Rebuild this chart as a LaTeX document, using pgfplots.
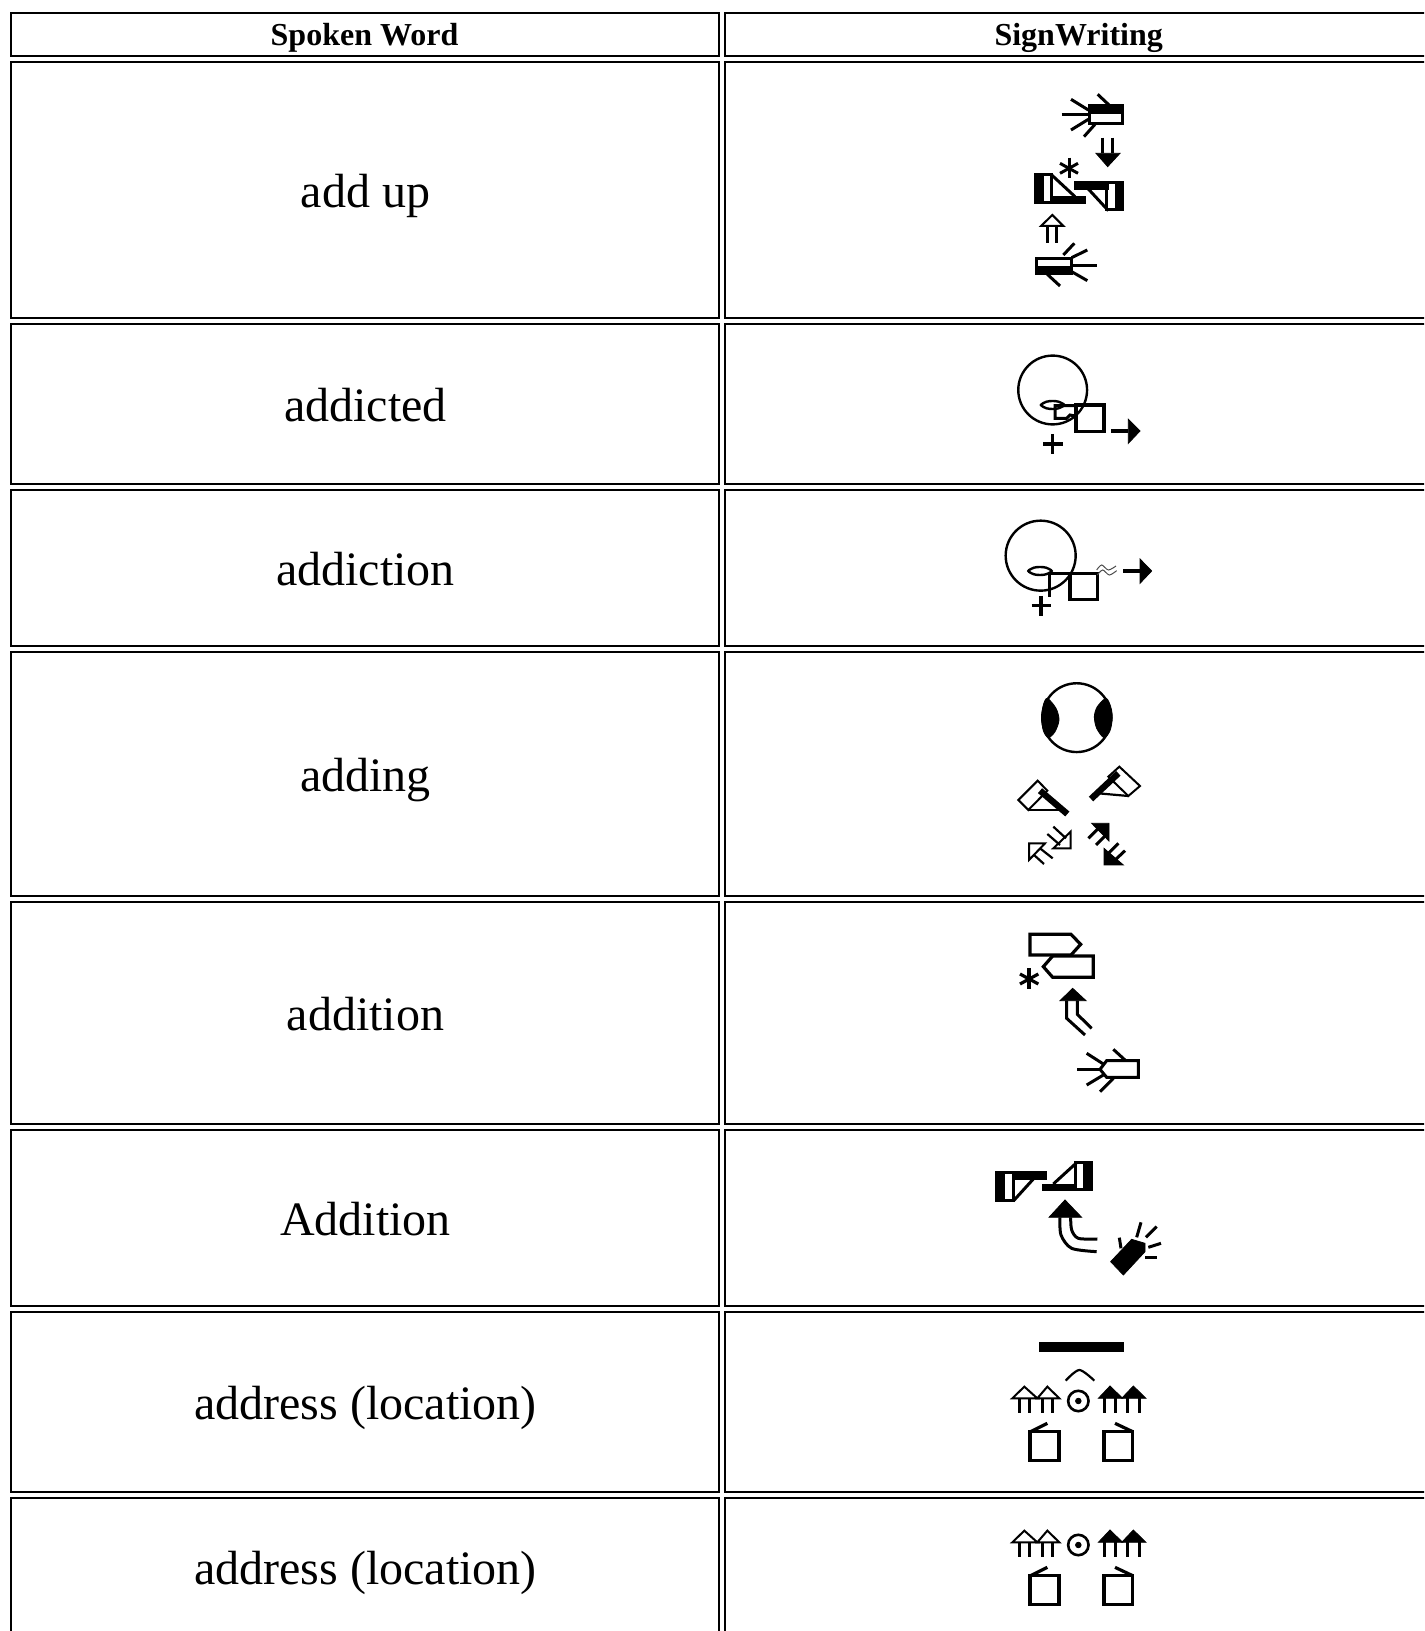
\documentclass[border=0pt]{standalone}
\usepackage{fontspec}
\setmainfont{Liberation Serif}
\usepackage{pgfplots}
\pgfplotsset{compat=1.18}
\pgfplotsset{
  g/.style={black,line width=1.5pt,no markers,line cap=butt,line join=miter},
  h/.style={black,line width=1.6pt,no markers,line join=miter},
  t/.style={black!70,line width=0.5pt,no markers,smooth},
  f/.style={black,fill=black,line width=0.4pt,no markers},
  o/.style={black,fill=white,line width=1pt,no markers,line join=miter},
  rule/.style={black,line width=1.1pt,no markers},
  zone/.style n args={6}{hide axis,scale only axis,anchor=south west,
    at={({#1*0.5pt},{(1631-#2-#4)*0.5pt})},
    width=#3*0.5pt,height=#4*0.5pt,
    xmin=0,xmax=#5,ymin=0,ymax=#6,y dir=reverse,clip=false},
}
\newcommand\ring[4]{\addplot[only marks,mark=o,mark size=#3pt,
  mark options={draw=black,fill=none,line width=#4pt}] coordinates {(#1,#2)};}
\newcommand\addressbody{%
  \ring{355}{243}{5.1}{1.3}
  \addplot[only marks,mark=*,mark size=1.4pt,mark options={black}] coordinates {(355,243)};
  \addplot[o] coordinates {(157,235)(193,200)(232,235)} --cycle;
  \addplot[o] coordinates {(232,235)(262,200)(298,235)} --cycle;
  \addplot[g] coordinates {(178,235)(178,278)};
  \addplot[g] coordinates {(208,235)(208,278)};
  \addplot[g] coordinates {(248,235)(248,278)};
  \addplot[g] coordinates {(278,235)(278,278)};
  \addplot[f] coordinates {(415,235)(450,198)(488,235)} --cycle;
  \addplot[f] coordinates {(485,235)(520,198)(558,235)} --cycle;
  \addplot[g] coordinates {(433,235)(433,278)};
  \addplot[g] coordinates {(465,235)(465,278)};
  \addplot[g] coordinates {(503,235)(503,278)};
  \addplot[g] coordinates {(537,235)(537,278)};
  \addplot[h] coordinates {(210,335)(297,335)(297,422)(210,422)} --cycle;
  \addplot[h] coordinates {(212,335)(262,310)};
  \addplot[h] coordinates {(432,335)(518,335)(518,422)(432,422)} --cycle;
  \addplot[h] coordinates {(518,335)(465,310)};
}
\begin{document}
\begin{tikzpicture}
\useasboundingbox (0,0) rectangle (712pt,815.5pt);
% table
\begin{axis}[zone={0}{0}{1424}{1631}{1424}{1631},clip=true]
  \addplot[rule] coordinates {(11,13)(719,13)(719,56)(11,56)} --cycle;
  \addplot[rule] coordinates {(725,13)(1432,13)(1432,56)(725,56)} --cycle;
  \addplot[rule] coordinates {(11,62)(719,62)(719,318)(11,318)} --cycle;
  \addplot[rule] coordinates {(725,62)(1432,62)(1432,318)(725,318)} --cycle;
  \addplot[rule] coordinates {(11,324)(719,324)(719,484)(11,484)} --cycle;
  \addplot[rule] coordinates {(725,324)(1432,324)(1432,484)(725,484)} --cycle;
  \addplot[rule] coordinates {(11,490)(719,490)(719,646)(11,646)} --cycle;
  \addplot[rule] coordinates {(725,490)(1432,490)(1432,646)(725,646)} --cycle;
  \addplot[rule] coordinates {(11,652)(719,652)(719,896)(11,896)} --cycle;
  \addplot[rule] coordinates {(725,652)(1432,652)(1432,896)(725,896)} --cycle;
  \addplot[rule] coordinates {(11,902)(719,902)(719,1124)(11,1124)} --cycle;
  \addplot[rule] coordinates {(725,902)(1432,902)(1432,1124)(725,1124)} --cycle;
  \addplot[rule] coordinates {(11,1130)(719,1130)(719,1306)(11,1306)} --cycle;
  \addplot[rule] coordinates {(725,1130)(1432,1130)(1432,1306)(725,1306)} --cycle;
  \addplot[rule] coordinates {(11,1312)(719,1312)(719,1492)(11,1492)} --cycle;
  \addplot[rule] coordinates {(725,1312)(1432,1312)(1432,1492)(725,1492)} --cycle;
  \addplot[rule] coordinates {(11,1498)(719,1498)(719,1640)(11,1640)} --cycle;
  \addplot[rule] coordinates {(725,1498)(1432,1498)(1432,1640)(725,1640)} --cycle;
  \node[anchor=base,font=\fontsize{16}{18}\selectfont\bfseries] at (axis cs:364.5,45.7) {Spoken Word};
  \node[anchor=base,font=\fontsize{16}{18}\selectfont\bfseries] at (axis cs:1078.7,45.7) {SignWriting};
  \node[anchor=base,font=\fontsize{24}{26}\selectfont] at (axis cs:365.5,208) {add up};
  \node[anchor=base,font=\fontsize{24}{26}\selectfont] at (axis cs:365.5,421) {addicted};
  \node[anchor=base,font=\fontsize{24}{26}\selectfont] at (axis cs:365.5,585) {addiction};
  \node[anchor=base,font=\fontsize{24}{26}\selectfont] at (axis cs:365.5,791) {adding};
  \node[anchor=base,font=\fontsize{24}{26}\selectfont] at (axis cs:365.5,1030) {addition};
  \node[anchor=base,font=\fontsize{24}{26}\selectfont] at (axis cs:365.5,1235) {Addition};
  \node[anchor=base,font=\fontsize{24}{26}\selectfont] at (axis cs:365.5,1419) {address (location)};
  \node[anchor=base,font=\fontsize{24}{26}\selectfont] at (axis cs:365.5,1584) {address (location)};
\end{axis}
% add up
\begin{axis}[zone={960}{70}{240}{240}{720}{720}]
  \addplot[g] coordinates {(305,133)(385,133)};
  \addplot[g] coordinates {(333,88)(385,120)};
  \addplot[g] coordinates {(413,73)(447,105)};
  \addplot[g] coordinates {(333,180)(385,148)};
  \addplot[g] coordinates {(372,200)(405,163)};
  \addplot[f] coordinates {(385,105)(488,105)(488,130)(385,130)} --cycle;
  \addplot[g] coordinates {(387,107)(486,107)(486,161)(387,161)} --cycle;
  \addplot[g] coordinates {(428,203)(428,250)};
  \addplot[g] coordinates {(458,203)(458,250)};
  \addplot[f] coordinates {(408,250)(480,250)(443,290)} --cycle;
  \addplot[g] coordinates {(327,263)(327,325)};
  \addplot[g] coordinates {(300,280)(354,310)};
  \addplot[g] coordinates {(354,280)(300,310)};
  \addplot[f] coordinates {(225,313)(250,313)(250,400)(225,400)} --cycle;
  \addplot[g] coordinates {(227,315)(275,315)(275,398)(227,398)} --cycle;
  \addplot[f] coordinates {(275,378)(375,378)(375,400)(275,400)} --cycle;
  \addplot[g] coordinates {(275,315)(345,380)};
  \addplot[f] coordinates {(343,335)(445,335)(445,357)(343,357)} --cycle;
  \addplot[f] coordinates {(465,335)(488,335)(488,422)(465,422)} --cycle;
  \addplot[g] coordinates {(440,337)(486,337)(486,420)(440,420)} --cycle;
  \addplot[g] coordinates {(385,357)(445,422)};
  \addplot[o] coordinates {(243,468)(310,468)(277,435)} --cycle;
  \addplot[g] coordinates {(262,468)(262,518)};
  \addplot[g] coordinates {(290,468)(290,518)};
  \addplot[g] coordinates {(335,588)(410,588)};
  \addplot[g] coordinates {(310,555)(343,520)};
  \addplot[g] coordinates {(335,563)(382,540)};
  \addplot[g] coordinates {(335,605)(382,632)};
  \addplot[g] coordinates {(262,613)(300,648)};
  \addplot[f] coordinates {(228,590)(335,590)(335,613)(228,613)} --cycle;
  \addplot[g] coordinates {(230,565)(333,565)(333,611)(230,611)} --cycle;
\end{axis}
% addicted, addiction
\begin{axis}[zone={960}{340}{240}{300}{720}{900}]
  \ring{278}{150}{17.2}{1.2}
  \ring{242}{647}{17.5}{1.2}
  \addplot[g,line width=1.2pt,smooth cycle] coordinates {(243,195)(260,185)(278,183)(295,185)(313,195)(295,205)(278,207)(260,205)};
  \addplot[g] coordinates {(345,197)(285,197)(285,235)(320,235)(330,225)(345,228)};
  \addplot[h] coordinates {(348,195)(432,195)(432,275)(348,275)} --cycle;
  \addplot[h] coordinates {(250,312)(308,312)};
  \addplot[h] coordinates {(278,282)(278,342)};
  \addplot[h] coordinates {(453,273)(505,273)};
  \addplot[f] coordinates {(505,238)(540,273)(505,310)} --cycle;
  \addplot[g,line width=1.2pt,smooth cycle] coordinates {(205,693)(222,683)(240,681)(258,683)(275,693)(258,703)(240,705)(222,703)};
  \addplot[g] coordinates {(268,700)(268,770)};
  \addplot[g] coordinates {(268,700)(330,700)};
  \addplot[h] coordinates {(330,700)(413,700)(413,778)(330,778)} --cycle;
  \addplot[h] coordinates {(215,797)(272,797)};
  \addplot[h] coordinates {(243,768)(243,827)};
  \addplot[t] coordinates {(410,690)(425,675)(445,690)(468,678)};
  \addplot[t] coordinates {(412,705)(428,690)(448,705)(470,692)};
  \addplot[h] coordinates {(490,693)(540,693)};
  \addplot[f] coordinates {(540,657)(575,693)(540,730)} --cycle;
\end{axis}
% adding
\begin{axis}[zone={960}{660}{240}{240}{720}{720}]
  \ring{350}{173}{17.2}{1.2}
  \addplot[f,smooth cycle] coordinates {(262,115)(250,135)(245,173)(250,212)(265,233)(285,215)(297,180)(288,145)};
  \addplot[f,smooth cycle] coordinates {(438,115)(452,140)(457,173)(450,212)(432,233)(410,205)(403,170)(412,140)};
  \addplot[o] coordinates {(175,420)(233,362)(262,392)(205,450)} --cycle;
  \addplot[g,line width=1.1pt] coordinates {(205,450)(310,450)};
  \addplot[g,line width=3.2pt] coordinates {(240,392)(322,462)};
  \addplot[o] coordinates {(478,320)(540,378)(505,408)(445,350)} --cycle;
  \addplot[g,line width=1.1pt] coordinates {(415,400)(505,408)};
  \addplot[g,line width=3.2pt] coordinates {(393,417)(475,340)};
  \addplot[o] coordinates {(207,550)(255,550)(207,600)} --cycle;
  \addplot[g,line width=1.1pt] coordinates {(222,585)(252,612)};
  \addplot[g,line width=1.1pt] coordinates {(240,565)(278,595)};
  \addplot[o] coordinates {(332,565)(332,515)(280,565)} --cycle;
  \addplot[g,line width=1.1pt] coordinates {(262,522)(300,555)};
  \addplot[g,line width=1.1pt] coordinates {(280,500)(318,535)};
  \addplot[f] coordinates {(395,490)(447,490)(447,543)} --cycle;
  \addplot[g] coordinates {(385,535)(415,505)};
  \addplot[g] coordinates {(408,555)(438,525)};
  \addplot[f] coordinates {(432,615)(432,565)(490,615)} --cycle;
  \addplot[g] coordinates {(495,572)(460,605)};
  \addplot[g] coordinates {(475,550)(440,585)};
\end{axis}
% addition
\begin{axis}[zone={960}{920}{240}{200}{720}{600}]
  \addplot[h] coordinates {(210,43)(333,43)(362,73)(333,105)(210,105)} --cycle;
  \addplot[h] coordinates {(400,108)(278,108)(250,140)(278,172)(400,172)} --cycle;
  \addplot[h] coordinates {(207,145)(207,207)};
  \addplot[h] coordinates {(180,162)(235,192)};
  \addplot[h] coordinates {(235,162)(180,192)};
  \addplot[f] coordinates {(300,242)(378,242)(338,205)} --cycle;
  \addplot[g] coordinates {(320,242)(320,295)(375,345)};
  \addplot[g] coordinates {(352,242)(352,283)(395,325)};
  \addplot[g] coordinates {(535,422)(440,422)(420,448)(440,472)(535,472)} --cycle;
  \addplot[g] coordinates {(352,448)(420,448)};
  \addplot[g] coordinates {(380,400)(430,432)};
  \addplot[g] coordinates {(460,388)(497,422)};
  \addplot[g] coordinates {(380,495)(430,465)};
  \addplot[g] coordinates {(420,515)(460,475)};
\end{axis}
% Addition
\begin{axis}[zone={960}{1140}{240}{160}{720}{480}]
  \addplot[f] coordinates {(108,95)(133,95)(133,183)(108,183)} --cycle;
  \addplot[g] coordinates {(110,97)(160,97)(160,181)(110,181)} --cycle;
  \addplot[f] coordinates {(160,95)(258,95)(258,117)(160,117)} --cycle;
  \addplot[g] coordinates {(160,183)(220,117)};
  \addplot[f] coordinates {(247,132)(350,132)(350,152)(247,152)} --cycle;
  \addplot[f] coordinates {(370,65)(395,65)(395,152)(370,152)} --cycle;
  \addplot[g] coordinates {(345,67)(393,67)(393,150)(345,150)} --cycle;
  \addplot[g] coordinates {(280,132)(350,68)};
  \addplot[f] coordinates {(267,232)(365,232)(315,180)} --cycle;
  \addplot[g,smooth] coordinates {(300,232)(303,285)(335,325)(410,335)};
  \addplot[g,smooth] coordinates {(332,232)(335,270)(355,295)(412,297)};
  \addplot[f] coordinates {(452,365)(515,298)(555,310)(555,335)(490,405)} --cycle;
  \addplot[g] coordinates {(478,293)(483,325)};
  \addplot[g] coordinates {(543,247)(530,292)};
  \addplot[g] coordinates {(590,260)(558,292)};
  \addplot[g] coordinates {(603,310)(565,322)};
  \addplot[g] coordinates {(590,352)(555,352)};
\end{axis}
% address (1)
\begin{axis}[zone={960}{1320}{240}{160}{720}{480}]
  \addplot[f] coordinates {(237,68)(490,68)(490,93)(237,93)} --cycle;
  \addplot[g,smooth,line width=1.1pt] coordinates {(317,182)(358,150)(403,182)};
  \addressbody
\end{axis}
% address (2)
\begin{axis}[zone={960}{1464}{240}{160}{720}{480}]
  \addressbody
\end{axis}
\end{tikzpicture}
\end{document}
